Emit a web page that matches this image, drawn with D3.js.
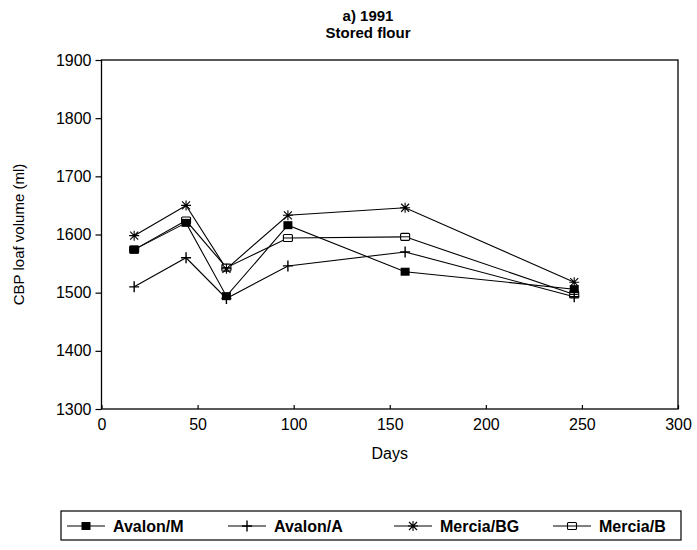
<!DOCTYPE html>
<html>
<head>
<meta charset="utf-8">
<script src="https://cdn.jsdelivr.net/npm/d3@7"></script>
<style>
  html, body { margin: 0; padding: 0; background: #fff; }
  svg { display: block; }
  text { font-family: "Liberation Sans", Arial, Helvetica, sans-serif; fill: #000; }
</style>
</head>
<body>
<svg id="chart" width="697" height="550"></svg>
<script>
// Storage time (days) and CBP loaf volume (ml) for each flour
const days = [17, 44, 65, 97, 158, 246];
const avalonM = [1574, 1620, 1494, 1616, 1536, 1506];
const avalonA = [1510, 1560, 1490, 1546, 1570, 1493];
const merciaBG = [1598, 1650, 1541, 1633, 1646, 1518];
const merciaB = [1574, 1624, 1543, 1594, 1596, 1497];

const xTicks = [0, 50, 100, 150, 200, 250, 300];
const yTicks = [1300, 1400, 1500, 1600, 1700, 1800, 1900];

const titleLines = ["a) 1991", "Stored flour"];
const xTitle = "Days";
const yTitle = "CBP loaf volume (ml)";

const series = [
  { name: "Avalon/M", values: avalonM, marker: "filledSquare" },
  { name: "Avalon/A", values: avalonA, marker: "plus" },
  { name: "Mercia/BG", values: merciaBG, marker: "star" },
  { name: "Mercia/B", values: merciaB, marker: "openSquare" }
];

const svg = d3.select("#chart");
const plot = { left: 101.5, right: 678, top: 60, bottom: 409 };

const x = d3.scaleLinear().domain([0, 300]).range([plot.left, plot.right]);
const y = d3.scaleLinear().domain([1300, 1900]).range([plot.bottom, plot.top]);

// Title
svg.append("g").selectAll("text").data(titleLines).join("text")
  .attr("x", 368).attr("y", (d, i) => 21 + i * 17)
  .attr("text-anchor", "middle")
  .attr("font-size", 15).attr("font-weight", "bold")
  .text(d => d);

// Frame
svg.append("rect")
  .attr("x", plot.left).attr("y", plot.top)
  .attr("width", plot.right - plot.left).attr("height", plot.bottom - plot.top)
  .attr("fill", "none").attr("stroke", "#000").attr("stroke-width", 1.3);

// Y axis
const yAxis = svg.append("g")
  .attr("transform", `translate(${plot.left},0)`)
  .call(d3.axisLeft(y).tickValues(yTicks).tickSize(6).tickPadding(4).tickFormat(d3.format("d")));
yAxis.select(".domain").remove();
yAxis.selectAll("line").attr("stroke", "#000").attr("stroke-width", 1.2);
yAxis.selectAll("text").attr("font-size", 16).attr("font-family", null);

// X axis: ticks point into the plot
const xAxis = svg.append("g")
  .attr("transform", `translate(0,${plot.bottom})`)
  .call(d3.axisBottom(x).tickValues(xTicks).tickSizeInner(-4).tickSizeOuter(0).tickPadding(10));
xAxis.select(".domain").remove();
xAxis.selectAll("line").attr("stroke", "#000").attr("stroke-width", 1.2);
xAxis.selectAll("text").attr("font-size", 16).attr("font-family", null);

// Axis titles
svg.append("text")
  .attr("x", (plot.left + plot.right) / 2).attr("y", 459)
  .attr("text-anchor", "middle").attr("font-size", 16)
  .text(xTitle);

svg.append("text")
  .attr("transform", `translate(24,${(plot.top + plot.bottom) / 2}) rotate(-90)`)
  .attr("text-anchor", "middle").attr("font-size", 15)
  .text(yTitle);

// Marker shapes
function drawMarker(g, type, cx, cy) {
  if (type === "filledSquare") {
    g.append("rect").attr("x", cx - 4.5).attr("y", cy - 4).attr("width", 9).attr("height", 8)
      .attr("fill", "#000");
  } else if (type === "openSquare") {
    g.append("rect").attr("x", cx - 4.5).attr("y", cy - 3.5).attr("width", 9).attr("height", 7)
      .attr("rx", 1)
      .attr("fill", "#fff").attr("stroke", "#000").attr("stroke-width", 1.1);
    g.append("line").attr("x1", cx - 4.5).attr("x2", cx + 4.5).attr("y1", cy).attr("y2", cy)
      .attr("stroke", "#000").attr("stroke-width", 1);
  } else if (type === "plus") {
    g.append("path").attr("d", `M${cx - 5},${cy}H${cx + 5}M${cx},${cy - 5.5}V${cy + 5.5}`)
      .attr("stroke", "#000").attr("stroke-width", 1.4).attr("fill", "none");
  } else if (type === "star") {
    const r = 5;
    g.append("path")
      .attr("d", `M${cx - r},${cy}H${cx + r}M${cx - r * 0.8},${cy - r * 0.8}L${cx + r * 0.8},${cy + r * 0.8}` +
                 `M${cx - r * 0.8},${cy + r * 0.8}L${cx + r * 0.8},${cy - r * 0.8}M${cx},${cy - r}V${cy + r}`)
      .attr("stroke", "#000").attr("stroke-width", 1.1).attr("fill", "none");
  }
}

// Lines and markers
const line = d3.line().x(d => x(d[0])).y(d => y(d[1]));
series.forEach(s => {
  const pts = days.map((d, i) => [d, s.values[i]]);
  svg.append("path").datum(pts)
    .attr("d", line).attr("fill", "none")
    .attr("stroke", "#000").attr("stroke-width", 1.1);
});
// markers drawn in reverse so filled squares sit on top
series.slice().reverse().forEach(s => {
  const g = svg.append("g");
  days.forEach((d, i) => drawMarker(g, s.marker, x(d), y(s.values[i])));
});

// Legend
const legend = svg.append("g");
legend.append("rect")
  .attr("x", 61).attr("y", 511).attr("width", 620).attr("height", 29)
  .attr("fill", "none").attr("stroke", "#000").attr("stroke-width", 1.2);
const legendX = [67, 228, 394, 553];
series.forEach((s, i) => {
  const lx = legendX[i], ly = 526;
  legend.append("line").attr("x1", lx).attr("x2", lx + 38).attr("y1", ly).attr("y2", ly)
    .attr("stroke", "#000").attr("stroke-width", 1.1);
  drawMarker(legend, s.marker, lx + 19, ly);
  legend.append("text").attr("x", lx + 46).attr("y", ly + 5.5)
    .attr("font-size", 16).attr("font-weight", "bold")
    .text(s.name);
});
</script>
</body>
</html>
